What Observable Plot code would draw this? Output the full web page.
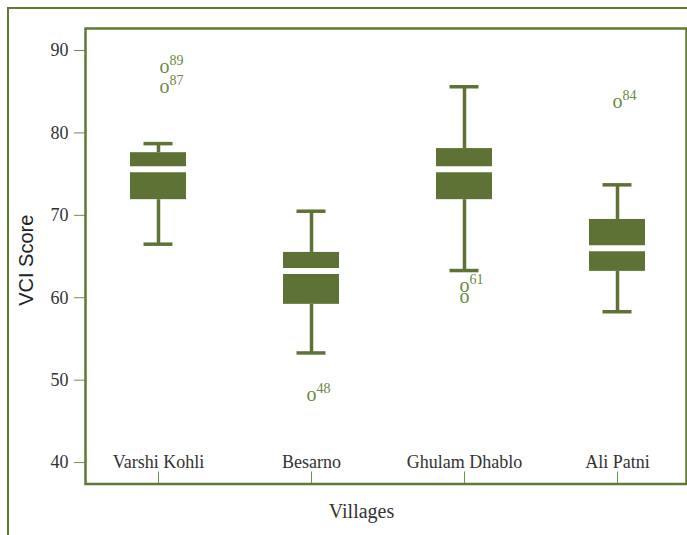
<!DOCTYPE html>
<html><head><meta charset="utf-8">
<script src="https://cdn.jsdelivr.net/npm/d3@7"></script>
<script src="https://cdn.jsdelivr.net/npm/@observablehq/plot@0.6"></script>
<style>
body{margin:0;background:#fff;}
#wrap{position:relative;width:687px;height:535px;overflow:hidden;}
#chart{position:absolute;left:0;top:0;}
#border{position:absolute;left:7px;top:7px;width:720px;height:620px;border-left:2px solid #5f7a35;border-top:2px solid #5f7a35;}
</style></head><body>
<div id="wrap"><div id="chart"></div><div id="border"></div></div>
<script>
const villages = ["Varshi Kohli", "Besarno", "Ghulam Dhablo", "Ali Patni"];
const whiskerLow = [66.5, 53.3, 63.3, 58.3];
const q1 = [71.9, 59.2, 71.9, 63.2];
const median = [75.6, 63.25, 75.6, 66.0];
const q3 = [77.6, 65.5, 78.1, 69.5];
const whiskerHigh = [78.7, 70.5, 85.6, 73.7];
const outlierVillage = ["Varshi Kohli", "Varshi Kohli", "Besarno", "Ghulam Dhablo", "Ghulam Dhablo", "Ali Patni"];
const outlierValue = [87.8, 85.4, 48.0, 61.25, 59.85, 83.6];
const outlierLabel = ["89", "87", "48", "61", "", "84"];
const yTicks = [40, 50, 60, 70, 80, 90];

const boxes = villages.map((v, i) => ({village: v, lo: whiskerLow[i], q1: q1[i], med: median[i], q3: q3[i], hi: whiskerHigh[i]}));
const outliers = outlierValue.map((v, i) => ({village: outlierVillage[i], value: v, label: outlierLabel[i]}));

const green = "#5f7236";
const frameGreen = "#5f7a35";
const outGreen = "#6a8a3e";
const serif = "'Liberation Serif', serif";
const isFirst = d => d.village === villages[0];
const notFirst = d => d.village !== villages[0];

const outlierMarks = (filter, shift) => [
  Plot.text(outliers, {filter, x: "village", y: "value", text: () => "o", fontSize: 20, fontFamily: serif, fill: outGreen, dx: shift, dy: -2}),
  Plot.text(outliers, {filter, x: "village", y: "value", text: "label", textAnchor: "start", dx: shift + 5, dy: -8, fontSize: 14, fontFamily: serif, fill: outGreen})
];

const chart = Plot.plot({
  width: 687,
  height: 535,
  marginLeft: 85,
  marginRight: 1,
  marginTop: 28,
  marginBottom: 51.5,
  style: {background: "transparent"},
  x: {type: "band", domain: villages, range: [80.3, 693.7], paddingInner: 0.635, paddingOuter: 0.3175, axis: null},
  y: {domain: [37.4, 92.67], axis: null},
  marks: [
    Plot.ruleX(boxes, {x: "village", y1: "q3", y2: "hi", stroke: green, strokeWidth: 3.5}),
    Plot.ruleX(boxes, {x: "village", y1: "lo", y2: "q1", stroke: green, strokeWidth: 3.5}),
    Plot.tickY(boxes, {x: "village", y: "hi", stroke: green, strokeWidth: 3.5, insetLeft: 13.5, insetRight: 13.5}),
    Plot.tickY(boxes, {x: "village", y: "lo", stroke: green, strokeWidth: 3.5, insetLeft: 13.5, insetRight: 13.5}),
    Plot.barY(boxes, {x: "village", y1: "q1", y2: "q3", fill: green}),
    Plot.tickY(boxes, {x: "village", y: "med", stroke: "white", strokeWidth: 6}),
    ...outlierMarks(isFirst, 6),
    ...outlierMarks(notFirst, 0),
    Plot.axisY({ticks: yTicks, tickSize: 11, tickPadding: 6, stroke: "#6f8f4f", fill: "#333", fontSize: 18, fontFamily: serif, label: null}),
    Plot.axisX({tickSize: -12, tickFormat: () => "", label: null, stroke: "#6f8f4f"}),
    Plot.text(villages, {x: d => d, frameAnchor: "bottom", lineAnchor: "bottom", dy: -16, fontSize: 18, fontFamily: serif, fill: "#333"}),
    Plot.text(["VCI Score"], {frameAnchor: "left", textAnchor: "middle", lineAnchor: "middle", rotate: -90, dx: -58.5, dy: 4, fontSize: 20, fontFamily: "'Liberation Sans', Arial, sans-serif", fill: "#222"}),
    Plot.text(["Villages"], {frameAnchor: "bottom", textAnchor: "middle", lineAnchor: "middle", dx: -24.5, dy: 28, fontSize: 20, fontFamily: serif, fill: "#333"}),
    Plot.frame({stroke: frameGreen, strokeWidth: 2.5})
  ]
});
document.getElementById("chart").appendChild(chart);
</script>
</body></html>
